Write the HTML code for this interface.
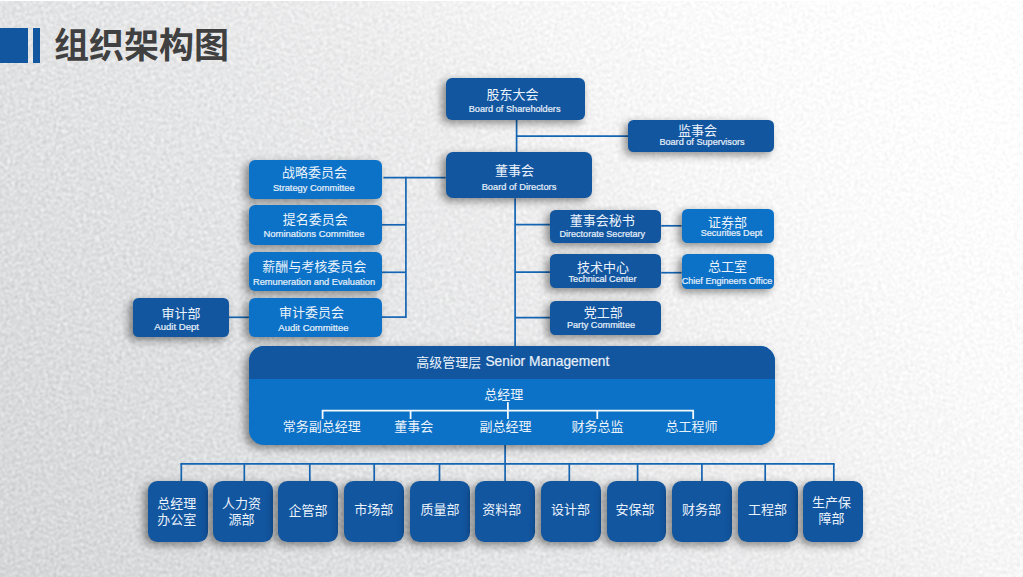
<!DOCTYPE html>
<html lang="zh-CN">
<head>
<meta charset="utf-8">
<title>组织架构图</title>
<style>
html,body{margin:0;padding:0}
body{width:1023px;height:577px;overflow:hidden;position:relative;font-family:"Liberation Sans","Noto Sans CJK SC",sans-serif;background:#e6e7e8}
#bg{position:absolute;left:0;top:0;display:block}
.bar{position:absolute;background:#1256a0}
h1{margin:0;position:absolute;left:54px;top:24px;font-size:35px;line-height:44px;font-weight:bold;color:#404040;white-space:nowrap;font-family:"Liberation Sans","Noto Sans CJK SC",sans-serif}
#lines,#wlines{position:absolute;left:0;top:0;display:block}
.ln{stroke:#1565b3;stroke-width:1.7;fill:none}
.wl{stroke:#f4f9fd;stroke-width:1.8;fill:none}
.box{position:absolute;box-shadow:-3.5px 3px 8px rgba(0,0,0,.44)}
.zh{position:absolute;display:block;text-align:center;color:#eaf2fb;font-size:13px;line-height:15px;white-space:nowrap;overflow:visible;font-family:"Liberation Sans","Noto Sans CJK SC",sans-serif}
.en{position:absolute;display:block;text-align:center;color:#e6f0fa;-webkit-text-stroke:.22px #e6f0fa;font-size:9.3px;line-height:10px;white-space:nowrap}
</style>
</head>
<body>
<svg id="bg" width="1023" height="577" viewBox="0 0 1023 577" aria-hidden="true">
<defs>
<linearGradient id="bgg" gradientUnits="userSpaceOnUse" x1="69" y1="660" x2="954" y2="-83">
<stop offset="0" stop-color="#d4d6d8"/><stop offset=".31" stop-color="#e1e2e3"/><stop offset=".54" stop-color="#ececed"/><stop offset=".67" stop-color="#f6f6f6"/><stop offset=".77" stop-color="#fafafa"/><stop offset=".9" stop-color="#fdfdfd"/><stop offset="1" stop-color="#fefefe"/></linearGradient>
<filter id="nf" filterUnits="userSpaceOnUse" x="-12" y="-12" width="1047" height="601" color-interpolation-filters="sRGB">
<feTurbulence type="fractalNoise" baseFrequency="0.61 0.57" numOctaves="1" seed="11" result="n"/>
<feColorMatrix in="n" type="matrix" values="1 0 0 0 0  1 0 0 0 0  1 0 0 0 0  0 0 0 0 1" result="g0"/>
<feGaussianBlur in="g0" stdDeviation="0.9" result="g"/>
<feComposite in="SourceGraphic" in2="g" operator="arithmetic" k1="0" k2="1" k3="0.42" k4="-0.21"/>
</filter>
<filter id="nf2" filterUnits="userSpaceOnUse" x="-12" y="-12" width="1047" height="601" color-interpolation-filters="sRGB">
<feTurbulence type="fractalNoise" baseFrequency="0.61 0.57" numOctaves="1" seed="11" result="n"/>
<feColorMatrix in="n" type="matrix" values="1 0 0 0 0  1 0 0 0 0  1 0 0 0 0  0 0 0 0 1" result="g0"/>
<feGaussianBlur in="g0" stdDeviation="0.9" result="g"/>
<feComposite in="SourceGraphic" in2="g" operator="arithmetic" k1="0" k2="1" k3="0.74" k4="-0.37"/>
</filter>
<linearGradient id="mg" gradientUnits="userSpaceOnUse" x1="69" y1="660" x2="954" y2="-83">
<stop offset="0" stop-color="#fff"/><stop offset=".3" stop-color="#fff"/><stop offset=".75" stop-color="#000"/><stop offset="1" stop-color="#000"/></linearGradient>
<mask id="nm" maskUnits="userSpaceOnUse" x="-12" y="-12" width="1047" height="601"><rect x="-12" y="-12" width="1047" height="601" fill="url(#mg)"/></mask>
</defs>
<rect x="-12" y="-12" width="1047" height="601" fill="url(#bgg)" filter="url(#nf)"/>
<g mask="url(#nm)"><rect x="-12" y="-12" width="1047" height="601" fill="url(#bgg)" filter="url(#nf2)"/></g>
<rect width="1023" height="1" fill="#fff"/>
</svg>

<div class="bar" style="left:0;top:28.2px;width:28.2px;height:35.3px"></div>
<div class="bar" style="left:32.8px;top:28.2px;width:7.6px;height:35.3px"></div>
<h1>组织架构图</h1>
<svg id="lines" width="1023" height="577" viewBox="0 0 1023 577" aria-hidden="true"><line class="ln" x1="516.6" y1="119" x2="516.6" y2="152"/><line class="ln" x1="516.6" y1="136.1" x2="628.3" y2="136.1"/><line class="ln" x1="383.4" y1="177.6" x2="445.7" y2="177.6"/><line class="ln" x1="405.9" y1="176.8" x2="405.9" y2="317.9"/><line class="ln" x1="381.6" y1="224.8" x2="405.9" y2="224.8"/><line class="ln" x1="381.6" y1="272.3" x2="405.9" y2="272.3"/><line class="ln" x1="381.6" y1="317.1" x2="405.9" y2="317.1"/><line class="ln" x1="229" y1="317.3" x2="248.9" y2="317.3"/><line class="ln" x1="515.1" y1="198.2" x2="515.1" y2="346.4"/><line class="ln" x1="515.1" y1="224.7" x2="549.9" y2="224.7"/><line class="ln" x1="515.1" y1="272.2" x2="549.9" y2="272.2"/><line class="ln" x1="515.1" y1="317.7" x2="549.9" y2="317.7"/><line class="ln" x1="661.2" y1="225.8" x2="681.6" y2="225.8"/><line class="ln" x1="661.2" y1="272.7" x2="681.6" y2="272.7"/><line class="ln" x1="505.1" y1="444" x2="505.1" y2="481"/><line class="ln" x1="180.45" y1="463.8" x2="834.65" y2="463.8"/><line class="ln" x1="181.3" y1="463.8" x2="181.3" y2="481"/><line class="ln" x1="244.3" y1="463.8" x2="244.3" y2="481"/><line class="ln" x1="309.8" y1="463.8" x2="309.8" y2="481"/><line class="ln" x1="374.2" y1="463.8" x2="374.2" y2="481"/><line class="ln" x1="439.5" y1="463.8" x2="439.5" y2="481"/><line class="ln" x1="569.3" y1="463.8" x2="569.3" y2="481"/><line class="ln" x1="637.6" y1="463.8" x2="637.6" y2="481"/><line class="ln" x1="701.9" y1="463.8" x2="701.9" y2="481"/><line class="ln" x1="765.2" y1="463.8" x2="765.2" y2="481"/><line class="ln" x1="833.8" y1="463.8" x2="833.8" y2="481"/></svg>
<div class="box" id="shareholders" style="left:445.5px;top:78px;width:139.2px;height:41.5px;background:#1256a0;border-radius:6px"><span class="zh" style="left:40.9px;top:9.1px;width:52px">股东大会</span><span class="en" style="left:3.15px;top:25.57px;width:131.9px;font-size:9.18px">Board of Shareholders</span></div>
<div class="box" id="supervisors" style="left:628.1px;top:119.5px;width:146.4px;height:32.5px;background:#1256a0;border-radius:5.5px"><span class="zh" style="left:50px;top:3.7px;width:39px">监事会</span><span class="en" style="left:11.25px;top:17.53px;width:125.3px;font-size:9.13px">Board of Supervisors</span></div>
<div class="box" id="directors" style="left:445.5px;top:151.6px;width:146.4px;height:46.8px;background:#1256a0;border-radius:7px"><span class="zh" style="left:49.6px;top:11.5px;width:39px">董事会</span><span class="en" style="left:16.15px;top:29.99px;width:114.7px;font-size:9.27px">Board of Directors</span></div>
<div class="box" id="strategy" style="left:248.8px;top:159.6px;width:132.8px;height:39.1px;background:#0c72c7;border-radius:6px"><span class="zh" style="left:33.2px;top:5.8px;width:65px">战略委员会</span><span class="en" style="left:4.1px;top:22.99px;width:121.8px;font-size:9.26px">Strategy Committee</span></div>
<div class="box" id="nominations" style="left:248.8px;top:205.4px;width:132.8px;height:39.6px;background:#0c72c7;border-radius:6px"><span class="zh" style="left:33.9px;top:6.4px;width:65px">提名委员会</span><span class="en" style="left:-5.4px;top:23.41px;width:141.2px;font-size:9.48px">Nominations Committee</span></div>
<div class="box" id="remuneration" style="left:248.8px;top:251.7px;width:132.8px;height:39.4px;background:#0c72c7;border-radius:6px"><span class="zh" style="left:13.5px;top:6.9px;width:104px">薪酬与考核委员会</span><span class="en" style="left:-15.95px;top:25.18px;width:162.3px;font-size:9.28px">Remuneration and Evaluation</span></div>
<div class="box" id="audit-committee" style="left:248.8px;top:298.3px;width:132.8px;height:38.6px;background:#0c72c7;border-radius:6px"><span class="zh" style="left:30.1px;top:6.9px;width:65px">审计委员会</span><span class="en" style="left:9.6px;top:25.01px;width:110.2px;font-size:9.5px">Audit Committee</span></div>
<div class="box" id="audit-dept" style="left:132.5px;top:297.7px;width:96.5px;height:39.1px;background:#1256a0;border-radius:5.5px"><span class="zh" style="left:28.9px;top:8.7px;width:39px">审计部</span><span class="en" style="left:1.85px;top:24.68px;width:84.7px;font-size:9.57px">Audit Dept</span></div>
<div class="box" id="secretary" style="left:549.7px;top:209.6px;width:111.6px;height:33.8px;background:#1256a0;border-radius:5.5px"><span class="zh" style="left:20px;top:3px;width:65px">董事会秘书</span><span class="en" style="left:-10.3px;top:19.25px;width:125.8px;font-size:9.08px">Directorate Secretary</span></div>
<div class="box" id="securities" style="left:681.7px;top:208.7px;width:92.6px;height:33.9px;background:#0c72c7;border-radius:5.5px"><span class="zh" style="left:26.3px;top:6.1px;width:39px">证券部</span><span class="en" style="left:-1px;top:18.85px;width:101.6px;font-size:9.08px">Securities Dept</span></div>
<div class="box" id="technical" style="left:549.7px;top:254.4px;width:111.7px;height:33.6px;background:#1256a0;border-radius:5.5px"><span class="zh" style="left:27.3px;top:5.7px;width:52px">技术中心</span><span class="en" style="left:-1.15px;top:19.84px;width:107.9px;font-size:9.12px">Technical Center</span></div>
<div class="box" id="chief-engineer" style="left:681.7px;top:254.2px;width:92.6px;height:34.4px;background:#0c72c7;border-radius:5.5px"><span class="zh" style="left:26.2px;top:5.1px;width:39px">总工室</span><span class="en" style="left:-20px;top:21.76px;width:130.6px;font-size:9.07px">Chief Engineers Office</span></div>
<div class="box" id="party" style="left:549.8px;top:300.7px;width:111.5px;height:34.1px;background:#1256a0;border-radius:5.5px"><span class="zh" style="left:33.9px;top:4.4px;width:39px">党工部</span><span class="en" style="left:-2.95px;top:19.52px;width:108.3px;font-size:9.17px">Party Committee</span></div>
<div class="box" id="management" style="left:248.8px;top:346.0px;width:526.2px;height:98.5px;background:#0c72c7;border-radius:15px">
<div id="mgmt-head" style="position:absolute;left:0;top:0;width:526.2px;height:32.6px;background:#1256a0;border-radius:15px 15px 0 0"></div>
<span class="zh" style="left:167.4px;top:8.7px;width:65px">高级管理层</span>
<span class="en" id="sm" style="left:216.6px;top:7.73px;width:163.9px;font-size:13.76px;line-height:16px">Senior Management</span>
<svg id="wlines" width="526.2" height="98.5" viewBox="0 0 526.2 98.5" aria-hidden="true"><line class="wl" x1="72.8" y1="64.7" x2="445" y2="64.7"/><line class="wl" x1="258.9" y1="56.2" x2="258.9" y2="73"/><line class="wl" x1="73.6" y1="64.7" x2="73.6" y2="73"/><line class="wl" x1="161.6" y1="64.7" x2="161.6" y2="73"/><line class="wl" x1="348.3" y1="64.7" x2="348.3" y2="73"/><line class="wl" x1="444.2" y1="64.7" x2="444.2" y2="73"/></svg>
<span class="zh" style="left:235.5px;top:40.6px;width:39px">总经理</span>
<span class="zh" style="left:33.9px;top:72.9px;width:78px">常务副总经理</span>
<span class="zh" style="left:145.4px;top:72.9px;width:39px">董事会</span>
<span class="zh" style="left:230.7px;top:72.9px;width:52px">副总经理</span>
<span class="zh" style="left:322.6px;top:72.9px;width:52px">财务总监</span>
<span class="zh" style="left:416.6px;top:72.9px;width:52px">总工程师</span>
</div>
<div class="box" id="dept1" style="left:147.9px;top:480.8px;width:59.8px;height:60.9px;background:#1256a0;border-radius:9.5px"><span class="zh" style="left:9.4px;top:15.5px;width:39px">总经理</span><span class="zh" style="left:9.4px;top:31.5px;width:39px">办公室</span></div>
<div class="box" id="dept2" style="left:213px;top:480.8px;width:59.8px;height:60.9px;background:#1256a0;border-radius:9.5px"><span class="zh" style="left:8.9px;top:15.5px;width:39px">人力资</span><span class="zh" style="left:15.6px;top:31.5px;width:26px">源部</span></div>
<div class="box" id="dept3" style="left:278.4px;top:480.8px;width:59.8px;height:60.9px;background:#1256a0;border-radius:9.5px"><span class="zh" style="left:10.2px;top:22.7px;width:39px">企管部</span></div>
<div class="box" id="dept4" style="left:343.9px;top:480.8px;width:59.8px;height:60.9px;background:#1256a0;border-radius:9.5px"><span class="zh" style="left:10.3px;top:21.1px;width:39px">市场部</span></div>
<div class="box" id="dept5" style="left:410.2px;top:480.8px;width:59.8px;height:60.9px;background:#1256a0;border-radius:9.5px"><span class="zh" style="left:10.2px;top:21.4px;width:39px">质量部</span></div>
<div class="box" id="dept6" style="left:475.4px;top:480.8px;width:59.8px;height:60.9px;background:#1256a0;border-radius:9.5px"><span class="zh" style="left:6.9px;top:21.4px;width:39px">资料部</span></div>
<div class="box" id="dept7" style="left:541.1px;top:480.8px;width:59.8px;height:60.9px;background:#1256a0;border-radius:9.5px"><span class="zh" style="left:9.9px;top:21.4px;width:39px">设计部</span></div>
<div class="box" id="dept8" style="left:606.5px;top:480.8px;width:59.8px;height:60.9px;background:#1256a0;border-radius:9.5px"><span class="zh" style="left:9.1px;top:21.4px;width:39px">安保部</span></div>
<div class="box" id="dept9" style="left:672.2px;top:480.8px;width:59.8px;height:60.9px;background:#1256a0;border-radius:9.5px"><span class="zh" style="left:9.8px;top:21.4px;width:39px">财务部</span></div>
<div class="box" id="dept10" style="left:737.9px;top:480.8px;width:59.8px;height:60.9px;background:#1256a0;border-radius:9.5px"><span class="zh" style="left:10px;top:21.4px;width:39px">工程部</span></div>
<div class="box" id="dept11" style="left:803.1px;top:480.8px;width:59.8px;height:60.9px;background:#1256a0;border-radius:9.5px"><span class="zh" style="left:8.8px;top:14.2px;width:39px">生产保</span><span class="zh" style="left:15.3px;top:30.2px;width:26px">障部</span></div>
</body>
</html>
